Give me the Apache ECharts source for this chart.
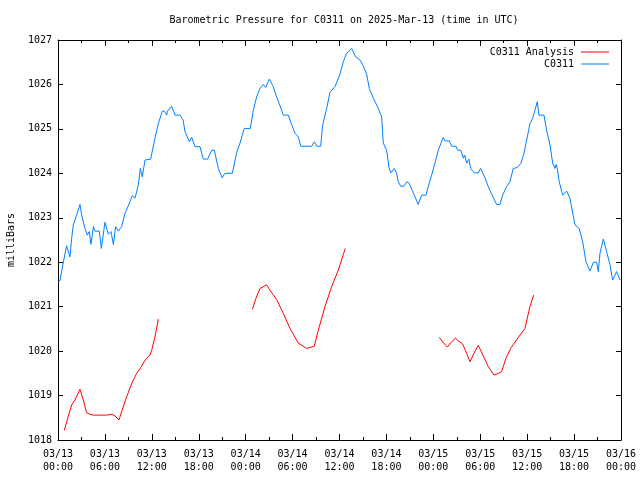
<!DOCTYPE html>
<html>
<head>
<meta charset="utf-8">
<script src="https://cdn.jsdelivr.net/npm/echarts@6/dist/echarts.min.js"></script>
<style>
html,body{margin:0;padding:0;background:#fff;}
#chart{width:640px;height:480px;}
</style>
</head>
<body>
<div id="chart"></div>
<script>
// x values are hours since 2025-03-13 00:00 UTC
var titleText = 'Barometric Pressure for C0311 on 2025-Mar-13 (time in UTC)';
var yAxisName = 'milliBars';
var xTickLabels = ['03/13\n00:00','03/13\n06:00','03/13\n12:00','03/13\n18:00','03/14\n00:00','03/14\n06:00','03/14\n12:00','03/14\n18:00','03/15\n00:00','03/15\n06:00','03/15\n12:00','03/15\n18:00','03/16\n00:00'];

var stationObs = [[0.05,1021.55],[0.26,1021.6],[0.68,1022.0],[1.1,1022.37],[1.3,1022.4],[1.53,1022.12],[1.75,1022.54],[1.96,1022.84],[2.39,1023.06],[2.81,1023.3],[3.03,1023.06],[3.45,1022.76],[3.75,1022.61],[4.0,1022.69],[4.22,1022.4],[4.52,1022.8],[4.73,1022.7],[5.28,1022.7],[5.54,1022.31],[6.01,1022.9],[6.44,1022.63],[6.78,1022.69],[7.08,1022.4],[7.37,1022.8],[7.71,1022.7],[8.14,1022.8],[8.57,1023.1],[8.82,1023.06],[9.21,1023.36],[9.5,1023.5],[9.85,1023.44],[10.27,1023.74],[10.53,1024.11],[10.78,1023.92],[11.13,1024.3],[11.85,1024.32],[12.4,1024.79],[12.83,1025.12],[13.34,1025.4],[13.6,1025.4],[13.9,1025.31],[14.0,1025.4],[14.54,1025.51],[14.96,1025.31],[15.6,1025.31],[16.0,1025.2],[16.24,1024.94],[16.8,1024.71],[17.1,1024.81],[17.52,1024.6],[18.16,1024.6],[18.58,1024.32],[19.14,1024.32],[19.65,1024.52],[19.99,1024.52],[20.5,1024.11],[21.0,1023.9],[21.35,1024.0],[22.3,1024.0],[22.85,1024.47],[23.27,1024.68],[23.83,1025.01],[24.6,1025.01],[24.98,1025.42],[25.4,1025.72],[25.83,1025.91],[26.25,1026.0],[26.56,1025.93],[27.02,1026.12],[27.53,1025.95],[27.96,1025.72],[28.39,1025.52],[28.81,1025.31],[29.45,1025.31],[29.89,1025.09],[30.31,1024.9],[30.73,1024.82],[31.04,1024.61],[32.44,1024.61],[32.78,1024.71],[33.08,1024.61],[33.59,1024.61],[33.85,1025.09],[34.36,1025.46],[34.78,1025.82],[35.42,1025.95],[36.06,1026.23],[36.48,1026.51],[36.92,1026.7],[37.56,1026.81],[38.06,1026.62],[38.62,1026.55],[39.04,1026.42],[39.47,1026.23],[39.81,1025.91],[40.33,1025.69],[40.96,1025.46],[41.39,1025.27],[41.6,1024.68],[42.03,1024.52],[42.33,1024.13],[42.58,1024.01],[43.01,1024.11],[43.3,1024.0],[43.52,1023.81],[43.82,1023.71],[44.24,1023.71],[44.59,1023.81],[44.9,1023.78],[45.36,1023.59],[46.07,1023.3],[46.5,1023.51],[47.06,1023.51],[47.35,1023.7],[47.78,1023.96],[48.21,1024.23],[48.63,1024.52],[49.27,1024.81],[49.49,1024.73],[50.04,1024.73],[50.34,1024.61],[50.9,1024.61],[51.11,1024.52],[51.53,1024.52],[51.83,1024.34],[52.0,1024.41],[52.26,1024.23],[52.55,1024.32],[52.77,1024.11],[53.24,1024.01],[53.75,1024.01],[54.05,1024.11],[54.6,1023.9],[55.03,1023.7],[55.46,1023.53],[56.1,1023.3],[56.52,1023.3],[56.86,1023.51],[57.37,1023.7],[57.8,1023.81],[58.22,1024.11],[58.74,1024.13],[59.21,1024.23],[59.59,1024.45],[59.94,1024.75],[60.36,1025.12],[60.7,1025.24],[61.0,1025.42],[61.29,1025.61],[61.51,1025.31],[62.15,1025.31],[62.49,1024.97],[62.92,1024.64],[63.26,1024.23],[63.55,1024.11],[63.7,1024.2],[63.85,1024.11],[64.1,1023.81],[64.54,1023.51],[65.05,1023.6],[65.47,1023.44],[66.11,1022.84],[66.66,1022.76],[67.1,1022.46],[67.52,1022.01],[68.03,1021.8],[68.47,1022.0],[68.89,1022.0],[69.1,1021.79],[69.31,1022.2],[69.74,1022.52],[70.16,1022.24],[70.59,1021.94],[70.93,1021.6],[71.44,1021.79],[71.87,1021.6]];

var analysisSeg1 = [[0.81,1018.22],[1.32,1018.54],[1.75,1018.79],[2.17,1018.9],[2.81,1019.14],[3.24,1018.9],[3.67,1018.61],[4.09,1018.58],[4.52,1018.56],[6.22,1018.56],[6.3,1018.58],[6.86,1018.58],[7.29,1018.54],[7.8,1018.45],[8.14,1018.64],[8.78,1018.97],[9.42,1019.27],[10.06,1019.5],[10.7,1019.66],[11.13,1019.8],[11.76,1019.91],[11.98,1020.02],[12.4,1020.32],[12.83,1020.72]];
var analysisSeg2 = [[24.85,1020.94],[25.32,1021.19],[25.83,1021.41],[26.69,1021.49],[27.11,1021.37],[27.96,1021.16],[28.81,1020.85],[29.67,1020.51],[30.73,1020.18],[31.8,1020.06],[32.78,1020.11],[33.29,1020.47],[34.14,1021.0],[35.0,1021.45],[35.84,1021.82],[36.74,1022.31]];
var analysisSeg3 = [[48.76,1020.31],[49.27,1020.19],[49.78,1020.09],[50.34,1020.21],[50.81,1020.29],[51.19,1020.23],[51.75,1020.16],[52.26,1019.95],[52.69,1019.76],[53.2,1019.95],[53.75,1020.13],[54.39,1019.89],[55.03,1019.65],[55.75,1019.46],[56.31,1019.5],[56.74,1019.54],[57.29,1019.84],[57.89,1020.06],[58.66,1020.26],[59.29,1020.41],[59.72,1020.51],[60.01,1020.74],[60.36,1021.0],[60.83,1021.26]];

var FONT = 'DejaVu Sans Mono';
var RED = '#ff0000';
var BLUE = '#0080ff';

var chart = echarts.init(document.getElementById('chart'), null, {renderer:'canvas'});

var axisLine = {show:true, onZero:false, lineStyle:{color:'#000', width:1}};

function xAxisBase(pos, showLabels){
  return {
    type:'value', position:pos, min:0, max:72, interval:6,
    axisLine: axisLine,
    axisTick:{show:true, inside:true, length:6, lineStyle:{color:'#000'}},
    minorTick:{show:true, splitNumber:2, length:3, lineStyle:{color:'#000'}},
    splitLine:{show:false},
    axisLabel:{show:showLabels, inside:false, margin:8, color:'#000', fontFamily:FONT, fontSize:10, lineHeight:13,
      formatter:function(v){ var i=Math.round(v/6); return xTickLabels[i] || ''; }}
  };
}
function yAxisBase(pos, showLabels){
  return {
    type:'value', position:pos, min:1018, max:1027, interval:1,
    axisLine: axisLine,
    axisTick:{show:true, inside:true, length:5, lineStyle:{color:'#000'}},
    splitLine:{show:false},
    axisLabel:{show:showLabels, margin:6, color:'#000', fontFamily:FONT, fontSize:10,
      formatter:function(v){ return String(Math.round(v)); }},
    name: showLabels ? yAxisName : '',
    nameLocation:'middle', nameGap:42, nameRotate:90,
    nameTextStyle:{color:'#000', fontFamily:FONT, fontSize:10}
  };
}

function redSeries(data){
  return {name:'C0311 Analysis', type:'line', data:data, xAxisIndex:0, yAxisIndex:0,
    showSymbol:false, symbol:'none', lineStyle:{color:RED, width:1}, itemStyle:{color:RED}, animation:false, silent:true};
}

var option = {
  backgroundColor:'#fff',
  animation:false,
  title:{text:titleText, left:339, top:10, textAlign:'center',
    textStyle:{fontFamily:FONT, fontSize:10, fontWeight:'normal', color:'#000'}},
  legend:{
    orient:'vertical', right:26, top:42, align:'right', itemGap:2, itemWidth:28, itemHeight:10,
    textStyle:{fontFamily:FONT, fontSize:10, color:'#000', padding:[0,2,0,0]},
    icon:'path://M0,5 L28,5 L28,6 L0,6 Z',
    data:[{name:'C0311 Analysis', itemStyle:{color:RED}}, {name:'C0311', itemStyle:{color:BLUE}}],
    selectedMode:false
  },
  grid:{left:58, right:19, top:40, bottom:40, containLabel:false, outerBoundsMode:'none'},
  xAxis:[xAxisBase('bottom', true), xAxisBase('top', false)],
  yAxis:[yAxisBase('left', true), yAxisBase('right', false)],
  series:[
    redSeries(analysisSeg1),
    {name:'C0311', type:'line', data:stationObs, xAxisIndex:0, yAxisIndex:0,
      showSymbol:false, symbol:'none', lineStyle:{color:BLUE, width:1}, itemStyle:{color:BLUE}, silent:true},
    redSeries(analysisSeg2),
    redSeries(analysisSeg3)
  ]
};
chart.setOption(option);
</script>
</body>
</html>
